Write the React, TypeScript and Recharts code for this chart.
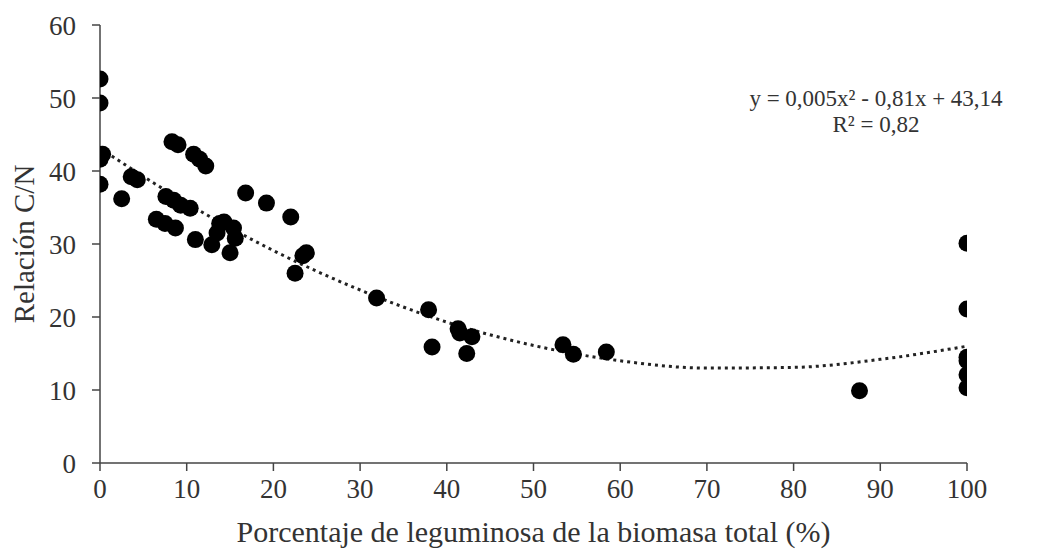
import { ComposedChart, Scatter, Line, XAxis, YAxis } from "recharts";

// observed points: % legume in total biomass vs C/N ratio
const pointX = [
  0, 0, 0, 0.3, 0, 2.5, 3.6, 4.3,
  8.3, 9.0, 10.8, 11.5, 12.2,
  7.6, 8.5, 9.3, 10.4,
  6.5, 7.5, 8.7, 11.0,
  13.8, 14.3, 15.4, 15.6, 12.9, 15.0, 13.5,
  16.8, 19.2, 22.0, 23.4, 23.8, 22.5,
  31.9, 37.9, 41.3, 41.5, 42.9, 38.3, 42.3,
  53.4, 54.6, 58.4, 87.6,
  100, 100, 100, 100, 100, 100,
];
const pointY = [
  52.6, 49.3, 41.6, 42.3, 38.2, 36.2, 39.2, 38.8,
  44.0, 43.6, 42.3, 41.6, 40.7,
  36.5, 36.0, 35.3, 34.9,
  33.4, 32.8, 32.2, 30.6,
  32.8, 33.0, 32.2, 30.8, 29.9, 28.8, 31.5,
  37.0, 35.6, 33.7, 28.4, 28.8, 26.0,
  22.6, 21.0, 18.4, 17.8, 17.3, 15.9, 15.0,
  16.2, 14.9, 15.2, 9.9,
  30.1, 21.1, 14.5, 14.0, 12.1, 10.3,
];

// polynomial trend line
const trendX = [0, 10, 20, 30, 40, 50, 60, 70, 80, 90, 100];
const trendY = [43.1, 35.6, 29.1, 23.7, 19.3, 16.1, 14.0, 13.0, 13.1, 14.2, 16.0];

const xTicks = [0, 10, 20, 30, 40, 50, 60, 70, 80, 90, 100];
const yTicks = [0, 10, 20, 30, 40, 50, 60];

const points = pointX.map((x, i) => ({ x, y: pointY[i] }));
const trend = trendX.map((x, i) => ({ x, y: trendY[i] }));

const FONT = "'Liberation Serif', 'DejaVu Serif', serif";
const AXIS = "#444";
const TEXT = "#333";

const Dot = (props: any) => <circle cx={props.cx} cy={props.cy} r={8.5} fill="#000" />;

export default function App() {
  return (
    <div style={{ position: "absolute", left: 0, top: 0, width: 1059, height: 554, background: "#fff" }}>
      <ComposedChart
        width={1059}
        height={554}
        margin={{ top: 25, right: 92, bottom: 0, left: 0 }}
        style={{ fontFamily: FONT }}
      >
        <XAxis
          type="number"
          dataKey="x"
          domain={[0, 100]}
          ticks={xTicks}
          interval={0}
          allowDataOverflow
          stroke={AXIS}
          strokeWidth={1.5}
          tickSize={8}
          tickMargin={8}
          height={91}
          tick={{ fill: TEXT, fontSize: 27, fontFamily: FONT }}
          label={{
            value: "Porcentaje de leguminosa de la biomasa total (%)",
            position: "insideBottom",
            offset: 12,
            fill: TEXT,
            fontSize: 30,
            fontFamily: FONT,
          }}
        />
        <YAxis
          type="number"
          dataKey="y"
          domain={[0, 60]}
          ticks={yTicks}
          interval={0}
          stroke={AXIS}
          strokeWidth={1.5}
          tickSize={8}
          tickMargin={16}
          width={100}
          tick={{ fill: TEXT, fontSize: 27, fontFamily: FONT }}
          label={{
            value: "Relación C/N",
            angle: -90,
            position: "insideLeft",
            offset: 24,
            fill: TEXT,
            fontSize: 29,
            fontFamily: FONT,
            style: { textAnchor: "middle" },
          }}
        />
        <Line
          data={trend}
          dataKey="y"
          type="monotone"
          stroke="#222"
          strokeWidth={3}
          strokeDasharray="3 4"
          dot={false}
          activeDot={false}
          isAnimationActive={false}
        />
        <Scatter data={points} dataKey="y" fill="#000" shape={Dot} isAnimationActive={false} />
      </ComposedChart>
      <div
        style={{
          position: "absolute",
          left: 726,
          top: 86,
          width: 300,
          textAlign: "center",
          fontFamily: FONT,
          fontSize: 23,
          lineHeight: "26px",
          color: TEXT,
        }}
      >
        <div>y = 0,005x² - 0,81x + 43,14</div>
        <div>R² = 0,82</div>
      </div>
    </div>
  );
}
